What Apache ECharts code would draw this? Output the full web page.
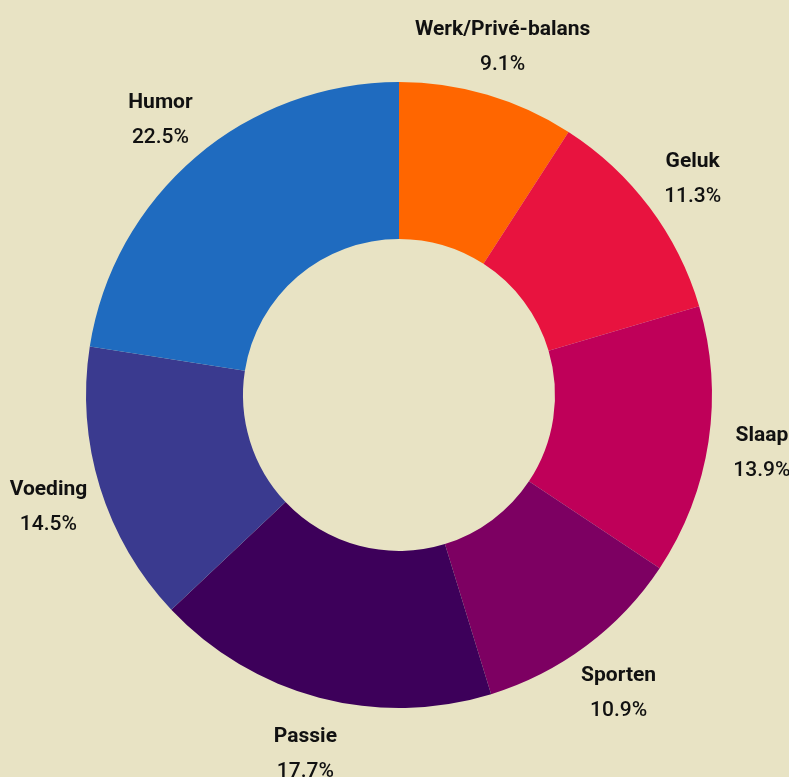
<!DOCTYPE html>
<html>
<head>
<meta charset="utf-8">
<script src="https://cdn.jsdelivr.net/npm/echarts@6/dist/echarts.min.js"></script>
<style>
  html, body { margin: 0; padding: 0; background: #E8E3C4; }
  #main { width: 789px; height: 777px; }
</style>
</head>
<body>
<div id="main"></div>
<script>
// categories and shares (%), clockwise from the top
var categories = ['Werk/Privé-balans', 'Geluk', 'Slaap', 'Sporten', 'Passie', 'Voeding', 'Humor'];
var shares = [9.1, 11.3, 13.9, 10.9, 17.7, 14.5, 22.5];
var colors = ['#FF6600', '#E8133F', '#BF0059', '#7D0062', '#3D005A', '#3A3A8F', '#1F6BBF'];

var chart = echarts.init(document.getElementById('main'));

var pieData = [];
var labelData = [];
for (var i = 0; i < categories.length; i++) {
  pieData.push({ name: categories[i], value: shares[i], itemStyle: { color: colors[i] } });
  labelData.push({ name: categories[i], value: shares[i] });
}

var option = {
  backgroundColor: '#E8E3C4',
  animation: false,
  series: [
    {
      // the donut itself
      type: 'pie',
      center: [399, 395],
      radius: [156, 313],
      startAngle: 90,
      clockwise: true,
      silent: true,
      label: { show: false },
      labelLine: { show: false },
      data: pieData
    },
    {
      // invisible ring, only used to place the labels centred outside
      type: 'pie',
      center: [399, 395],
      radius: [313, 415],
      startAngle: 90,
      clockwise: true,
      silent: true,
      itemStyle: { color: 'rgba(0,0,0,0)' },
      labelLine: { show: false },
      label: {
        show: true,
        position: 'inside',
        offset: [0, 4],
        formatter: function (p) {
          return '{n|' + p.name + '}\n{v|' + p.value + '%}';
        },
        rich: {
          n: { fontFamily: 'Roboto', fontWeight: 'bold', fontSize: 21, color: '#111111', lineHeight: 35, align: 'center' },
          v: { fontFamily: 'Roboto', fontWeight: 500, fontSize: 21, color: '#111111', lineHeight: 35, align: 'center' }
        }
      },
      data: labelData
    }
  ]
};

chart.setOption(option);
window.addEventListener('resize', function () {
  chart.resize();
});
</script>
</body>
</html>
